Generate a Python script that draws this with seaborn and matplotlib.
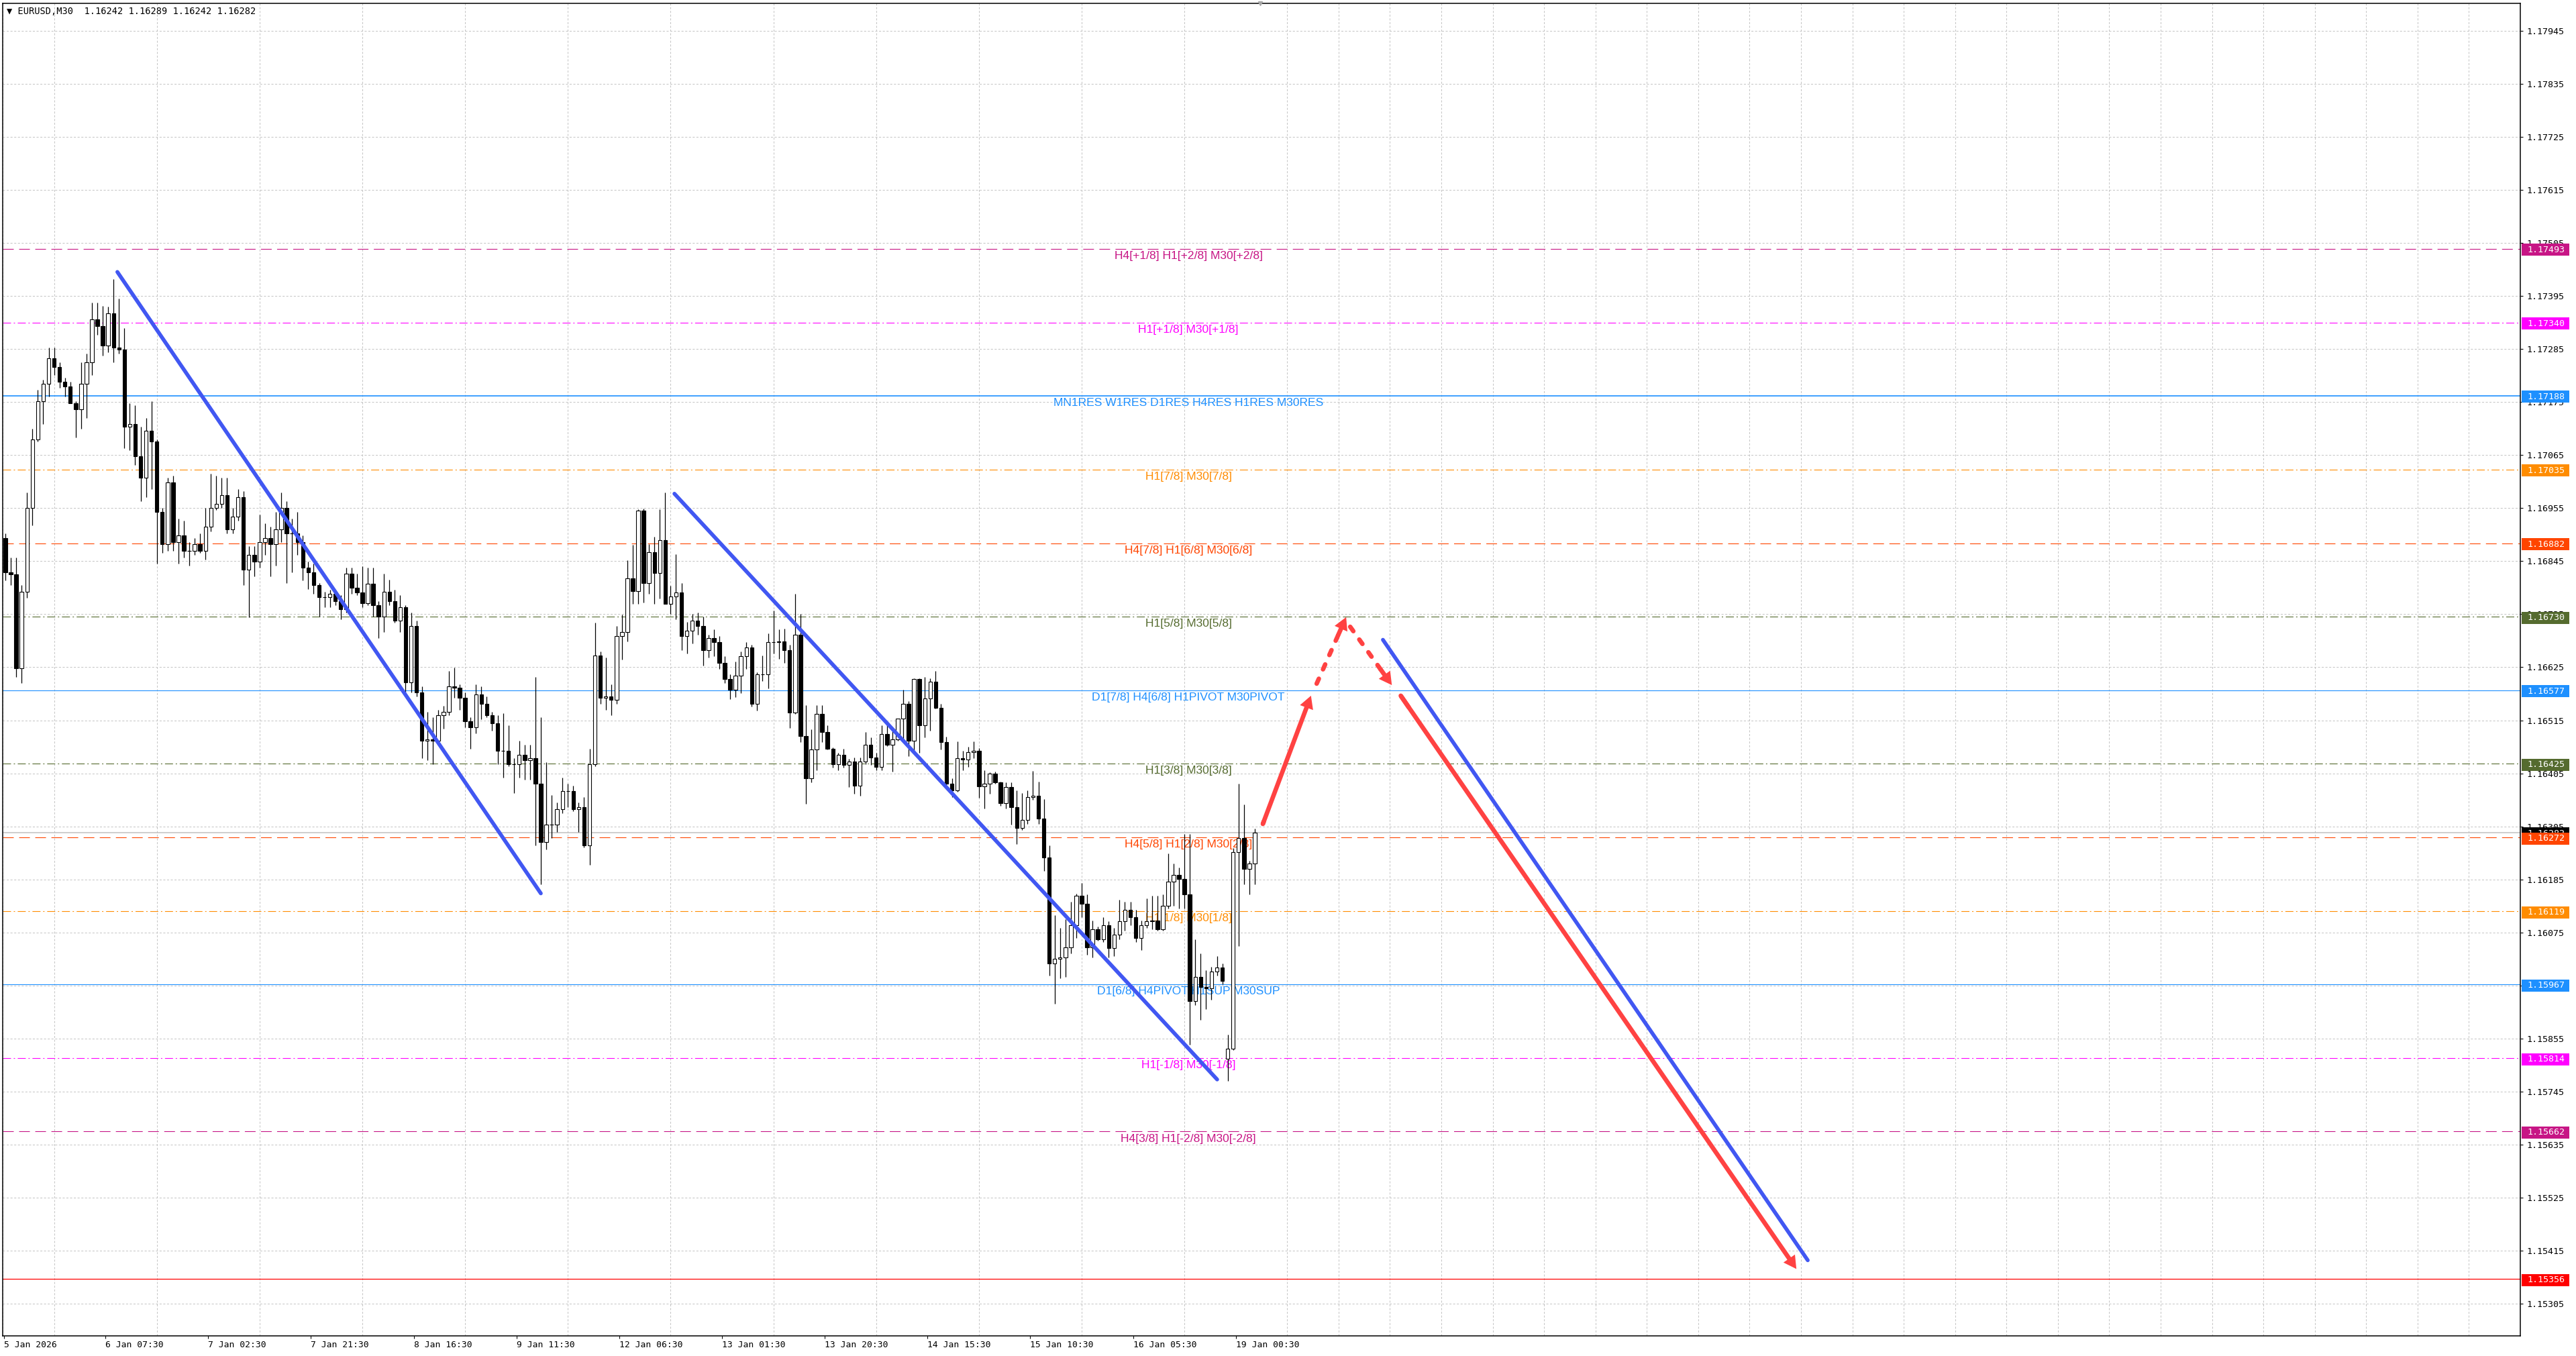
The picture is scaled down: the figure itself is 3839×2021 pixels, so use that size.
import matplotlib
matplotlib.use('Agg')
import numpy as np
import pandas as pd
import matplotlib.pyplot as plt
import matplotlib.transforms as mtransforms
from matplotlib.patches import Rectangle, FancyArrowPatch, ArrowStyle
from matplotlib.ticker import FixedLocator
import seaborn as sns

# ---------------- data (hourly candles = two M30 slots) ----------------
header = '\u25bc EURUSD,M30  1.16242 1.16289 1.16242 1.16282'

opens = [
    1.16893, 1.16822, 1.16818, 1.16623, 1.16782, 1.16955, 1.17097, 1.17177,
    1.17213, 1.17266, 1.17248, 1.17217, 1.17208, 1.17173, 1.17160, 1.17213,
    1.17257, 1.17346, 1.17333, 1.17293, 1.17359, 1.17288, 1.17284, 1.17124,
    1.17129, 1.17062, 1.17018, 1.17115, 1.17093, 1.16947, 1.16880, 1.17009,
    1.16884, 1.16898, 1.16867, 1.16867, 1.16880, 1.16867, 1.16916, 1.16955,
    1.16964, 1.16982, 1.16911, 1.16938, 1.16978, 1.16827, 1.16858, 1.16844,
    1.16884, 1.16893, 1.16880, 1.16911, 1.16955, 1.16902, 1.16902, 1.16884,
    1.16831, 1.16822, 1.16796, 1.16770, 1.16770, 1.16777, 1.16762, 1.16746,
    1.16819, 1.16790, 1.16780, 1.16758, 1.16798, 1.16754, 1.16730, 1.16782,
    1.16762, 1.16722, 1.16750, 1.16593, 1.16710, 1.16573, 1.16472, 1.16476,
    1.16472, 1.16525, 1.16533, 1.16585, 1.16583, 1.16561, 1.16513, 1.16501,
    1.16569, 1.16549, 1.16525, 1.16509, 1.16452, 1.16452, 1.16424, 1.16424,
    1.16444, 1.16432, 1.16436, 1.16384, 1.16263, 1.16299, 1.16299, 1.16331,
    1.16368, 1.16368, 1.16331, 1.16335, 1.16255, 1.16424, 1.16649, 1.16561,
    1.16565, 1.16557, 1.16690, 1.16698, 1.16810, 1.16783, 1.16950, 1.16799,
    1.16863, 1.16820, 1.16889, 1.16757, 1.16772, 1.16780, 1.16690, 1.16701,
    1.16722, 1.16711, 1.16661, 1.16685, 1.16677, 1.16634, 1.16600, 1.16579,
    1.16608, 1.16648, 1.16666, 1.16549, 1.16610, 1.16610, 1.16677, 1.16677,
    1.16679, 1.16661, 1.16531, 1.16693, 1.16483, 1.16395, 1.16454, 1.16528,
    1.16491, 1.16456, 1.16424, 1.16443, 1.16422, 1.16430, 1.16379, 1.16430,
    1.16464, 1.16438, 1.16419, 1.16486, 1.16464, 1.16475, 1.16518, 1.16549,
    1.16472, 1.16600, 1.16504, 1.16560, 1.16595, 1.16541, 1.16470, 1.16383,
    1.16370, 1.16436, 1.16434, 1.16449, 1.16452, 1.16378, 1.16383, 1.16405,
    1.16386, 1.16343, 1.16376, 1.16335, 1.16292, 1.16308, 1.16356, 1.16359,
    1.16311, 1.16231, 1.16010, 1.16020, 1.16023, 1.16044, 1.16090, 1.16151,
    1.16135, 1.16044, 1.16082, 1.16060, 1.16090, 1.16042, 1.16071, 1.16098,
    1.16122, 1.16106, 1.16063, 1.16090, 1.16098, 1.16100, 1.16082, 1.16130,
    1.16180, 1.16194, 1.16186, 1.16154, 1.15932, 1.15983, 1.15962, 1.15959,
    1.15994, 1.16002, 1.15813, 1.15834, 1.16242, 1.16271, 1.16207, 1.16218,
]
highs = [
    1.16902, 1.16853, 1.16853, 1.16796, 1.16987, 1.17120, 1.17200, 1.17222,
    1.17288, 1.17288, 1.17257, 1.17226, 1.17217, 1.17177, 1.17257, 1.17275,
    1.17381, 1.17381, 1.17374, 1.17373, 1.17430, 1.17390, 1.17328, 1.17173,
    1.17168, 1.17124, 1.17142, 1.17177, 1.17097, 1.16955, 1.17018, 1.17022,
    1.16933, 1.16929, 1.16884, 1.16893, 1.16902, 1.16955, 1.17027, 1.17022,
    1.17018, 1.17018, 1.16955, 1.16995, 1.16991, 1.16876, 1.16876, 1.16942,
    1.16924, 1.16916, 1.16947, 1.16987, 1.16969, 1.16933, 1.16947, 1.16898,
    1.16844, 1.16840, 1.16800, 1.16782, 1.16786, 1.16782, 1.16774, 1.16831,
    1.16831, 1.16819, 1.16835, 1.16831, 1.16831, 1.16762, 1.16819, 1.16806,
    1.16786, 1.16774, 1.16754, 1.16738, 1.16722, 1.16585, 1.16533, 1.16521,
    1.16537, 1.16545, 1.16617, 1.16624, 1.16589, 1.16573, 1.16521, 1.16589,
    1.16585, 1.16565, 1.16533, 1.16525, 1.16529, 1.16505, 1.16436, 1.16472,
    1.16464, 1.16464, 1.16605, 1.16521, 1.16428, 1.16360, 1.16344, 1.16396,
    1.16384, 1.16380, 1.16344, 1.16356, 1.16456, 1.16718, 1.16658, 1.16645,
    1.16589, 1.16710, 1.16734, 1.16847, 1.16879, 1.16953, 1.16954, 1.16881,
    1.16895, 1.16953, 1.16987, 1.16794, 1.16860, 1.16799, 1.16719, 1.16735,
    1.16738, 1.16730, 1.16693, 1.16704, 1.16690, 1.16648, 1.16610, 1.16637,
    1.16658, 1.16677, 1.16672, 1.16615, 1.16650, 1.16695, 1.16743, 1.16703,
    1.16705, 1.16672, 1.16777, 1.16735, 1.16547, 1.16496, 1.16547, 1.16547,
    1.16504, 1.16459, 1.16448, 1.16456, 1.16435, 1.16438, 1.16438, 1.16491,
    1.16480, 1.16448, 1.16504, 1.16504, 1.16499, 1.16518, 1.16579, 1.16555,
    1.16602, 1.16602, 1.16605, 1.16602, 1.16618, 1.16549, 1.16481, 1.16394,
    1.16471, 1.16452, 1.16460, 1.16471, 1.16457, 1.16412, 1.16407, 1.16408,
    1.16388, 1.16386, 1.16386, 1.16370, 1.16364, 1.16370, 1.16410, 1.16388,
    1.16351, 1.16255, 1.16111, 1.16084, 1.16103, 1.16138, 1.16156, 1.16177,
    1.16154, 1.16100, 1.16087, 1.16106, 1.16098, 1.16084, 1.16143, 1.16138,
    1.16139, 1.16122, 1.16100, 1.16146, 1.16151, 1.16151, 1.16154, 1.16239,
    1.16218, 1.16210, 1.16279, 1.16279, 1.16060, 1.16031, 1.15997, 1.16004,
    1.16026, 1.16010, 1.15863, 1.16250, 1.16383, 1.16340, 1.16223, 1.16290,
]
lows = [
    1.16805, 1.16796, 1.16605, 1.16592, 1.16769, 1.16920, 1.17093, 1.17129,
    1.17186, 1.17231, 1.17204, 1.17186, 1.17173, 1.17102, 1.17120, 1.17142,
    1.17231, 1.17315, 1.17271, 1.17279, 1.17257, 1.17275, 1.17080, 1.17075,
    1.17044, 1.16969, 1.16978, 1.16995, 1.16840, 1.16862, 1.16867, 1.16867,
    1.16840, 1.16853, 1.16836, 1.16858, 1.16862, 1.16849, 1.16907, 1.16951,
    1.16955, 1.16902, 1.16902, 1.16929, 1.16796, 1.16729, 1.16813, 1.16831,
    1.16858, 1.16813, 1.16836, 1.16884, 1.16800, 1.16822, 1.16858, 1.16805,
    1.16787, 1.16778, 1.16730, 1.16750, 1.16750, 1.16754, 1.16724, 1.16738,
    1.16778, 1.16774, 1.16750, 1.16754, 1.16730, 1.16686, 1.16698, 1.16754,
    1.16718, 1.16698, 1.16573, 1.16573, 1.16565, 1.16436, 1.16432, 1.16424,
    1.16464, 1.16497, 1.16525, 1.16561, 1.16537, 1.16501, 1.16456, 1.16488,
    1.16517, 1.16521, 1.16493, 1.16424, 1.16396, 1.16420, 1.16364, 1.16396,
    1.16392, 1.16392, 1.16255, 1.16175, 1.16247, 1.16271, 1.16283, 1.16323,
    1.16335, 1.16327, 1.16283, 1.16251, 1.16215, 1.16420, 1.16549, 1.16537,
    1.16525, 1.16549, 1.16641, 1.16678, 1.16757, 1.16757, 1.16759, 1.16778,
    1.16757, 1.16767, 1.16757, 1.16735, 1.16725, 1.16661, 1.16653, 1.16674,
    1.16693, 1.16629, 1.16645, 1.16648, 1.16621, 1.16592, 1.16559, 1.16563,
    1.16571, 1.16621, 1.16544, 1.16535, 1.16597, 1.16581, 1.16653, 1.16642,
    1.16634, 1.16499, 1.16528, 1.16470, 1.16342, 1.16387, 1.16411, 1.16470,
    1.16454, 1.16417, 1.16411, 1.16417, 1.16377, 1.16363, 1.16358, 1.16424,
    1.16422, 1.16411, 1.16411, 1.16462, 1.16409, 1.16472, 1.16470, 1.16440,
    1.16448, 1.16448, 1.16480, 1.16494, 1.16539, 1.16454, 1.16372, 1.16356,
    1.16367, 1.16412, 1.16418, 1.16436, 1.16354, 1.16332, 1.16362, 1.16383,
    1.16338, 1.16332, 1.16298, 1.16258, 1.16287, 1.16300, 1.16350, 1.16300,
    1.16202, 1.15986, 1.15927, 1.15980, 1.15983, 1.16031, 1.16063, 1.16106,
    1.16028, 1.16023, 1.16058, 1.16055, 1.16023, 1.16026, 1.16060, 1.16079,
    1.16090, 1.16055, 1.16039, 1.16084, 1.16082, 1.16079, 1.16079, 1.16124,
    1.16130, 1.16124, 1.16124, 1.15842, 1.15924, 1.15893, 1.15916, 1.15935,
    1.15986, 1.15967, 1.15767, 1.15831, 1.16047, 1.16175, 1.16154, 1.16175,
]
closes = [
    1.16822, 1.16818, 1.16623, 1.16782, 1.16955, 1.17097, 1.17177, 1.17213,
    1.17266, 1.17248, 1.17217, 1.17208, 1.17173, 1.17160, 1.17213, 1.17257,
    1.17346, 1.17333, 1.17293, 1.17359, 1.17288, 1.17284, 1.17124, 1.17129,
    1.17062, 1.17018, 1.17115, 1.17093, 1.16947, 1.16880, 1.17009, 1.16884,
    1.16898, 1.16867, 1.16867, 1.16880, 1.16867, 1.16916, 1.16955, 1.16964,
    1.16982, 1.16911, 1.16938, 1.16978, 1.16827, 1.16858, 1.16844, 1.16884,
    1.16893, 1.16880, 1.16911, 1.16955, 1.16902, 1.16902, 1.16884, 1.16831,
    1.16822, 1.16796, 1.16770, 1.16770, 1.16777, 1.16762, 1.16746, 1.16819,
    1.16790, 1.16780, 1.16758, 1.16798, 1.16754, 1.16730, 1.16782, 1.16762,
    1.16722, 1.16750, 1.16593, 1.16710, 1.16573, 1.16472, 1.16476, 1.16472,
    1.16525, 1.16533, 1.16585, 1.16583, 1.16561, 1.16513, 1.16501, 1.16569,
    1.16549, 1.16525, 1.16509, 1.16452, 1.16452, 1.16424, 1.16424, 1.16444,
    1.16432, 1.16436, 1.16384, 1.16263, 1.16299, 1.16299, 1.16331, 1.16368,
    1.16368, 1.16331, 1.16335, 1.16255, 1.16424, 1.16649, 1.16561, 1.16565,
    1.16557, 1.16690, 1.16698, 1.16810, 1.16783, 1.16950, 1.16799, 1.16863,
    1.16820, 1.16889, 1.16757, 1.16772, 1.16780, 1.16690, 1.16701, 1.16722,
    1.16711, 1.16661, 1.16685, 1.16677, 1.16634, 1.16600, 1.16579, 1.16608,
    1.16648, 1.16666, 1.16549, 1.16610, 1.16610, 1.16677, 1.16677, 1.16679,
    1.16661, 1.16531, 1.16693, 1.16483, 1.16395, 1.16454, 1.16528, 1.16491,
    1.16456, 1.16424, 1.16443, 1.16422, 1.16430, 1.16379, 1.16430, 1.16464,
    1.16438, 1.16419, 1.16486, 1.16464, 1.16475, 1.16518, 1.16549, 1.16472,
    1.16600, 1.16504, 1.16560, 1.16595, 1.16541, 1.16470, 1.16383, 1.16370,
    1.16436, 1.16434, 1.16449, 1.16452, 1.16378, 1.16383, 1.16405, 1.16386,
    1.16343, 1.16376, 1.16335, 1.16292, 1.16308, 1.16356, 1.16359, 1.16311,
    1.16231, 1.16010, 1.16020, 1.16023, 1.16044, 1.16090, 1.16151, 1.16135,
    1.16044, 1.16082, 1.16060, 1.16090, 1.16042, 1.16071, 1.16098, 1.16122,
    1.16106, 1.16063, 1.16090, 1.16098, 1.16100, 1.16082, 1.16130, 1.16180,
    1.16194, 1.16186, 1.16154, 1.15932, 1.15983, 1.15962, 1.15959, 1.15994,
    1.16002, 1.15975, 1.15834, 1.16242, 1.16271, 1.16207, 1.16218, 1.16282,
]

time_labels = ['5 Jan 2026', '6 Jan 07:30', '7 Jan 02:30', '7 Jan 21:30', '8 Jan 16:30',
               '9 Jan 11:30', '12 Jan 06:30', '13 Jan 01:30', '13 Jan 20:30',
               '14 Jan 15:30', '15 Jan 10:30', '16 Jan 05:30', '19 Jan 00:30']

tick_prices = [1.17945, 1.17835, 1.17725, 1.17615, 1.17505, 1.17395, 1.17285, 1.17175,
               1.17065, 1.16955, 1.16845, 1.16735, 1.16625, 1.16515, 1.16405, 1.16295,
               1.16185, 1.16075, 1.15965, 1.15855, 1.15745, 1.15635, 1.15525, 1.15415,
               1.15305]
tick_texts = ['1.17945', '1.17835', '1.17725', '1.17615', '1.17505', '1.17395', '1.17285',
              '1.17175', '1.17065', '1.16955', '1.16845', '1.16735', '1.16625', '1.16515',
              '1.16405', '1.16305', '1.16185', '1.16075', '1.15965', '1.15855', '1.15745',
              '1.15635', '1.15525', '1.15415', '1.15305']

level_prices = [1.17493, 1.17340, 1.17188, 1.17035, 1.16882, 1.16730, 1.16577,
                1.16425, 1.16272, 1.16119, 1.15967, 1.15814, 1.15662, 1.15356]
level_names = ['H4[+1/8] H1[+2/8] M30[+2/8]', 'H1[+1/8] M30[+1/8]',
               'MN1RES W1RES D1RES H4RES H1RES M30RES', 'H1[7/8] M30[7/8]',
               'H4[7/8] H1[6/8] M30[6/8]', 'H1[5/8] M30[5/8]',
               'D1[7/8] H4[6/8] H1PIVOT M30PIVOT', 'H1[3/8] M30[3/8]',
               'H4[5/8] H1[2/8] M30[2/8]', 'H1[1/8] M30[1/8]',
               'D1[6/8] H4PIVOT H1SUP M30SUP', 'H1[-1/8] M30[-1/8]',
               'H4[3/8] H1[-2/8] M30[-2/8]', '']
current_price = 1.16282

# hand-drawn objects: (M30 bar index, price)
trend_bar = [41.4, 198.0, 247.4, 448.1, 509.4, 666.5]
trend_price = [1.17445, 1.16156, 1.16985, 1.15770, 1.16682, 1.15395]
trend_id = [0, 0, 1, 1, 2, 2]
arrow_start_bar = [465.0, 484.9, 497.3, 516.0]
arrow_start_price = [1.16300, 1.16591, 1.16709, 1.16566]
arrow_end_bar = [482.8, 495.8, 512.7, 662.3]
arrow_end_price = [1.16566, 1.16729, 1.16588, 1.15377]
arrow_dashed = [False, True, True, False]

# ---------------- styles ----------------
level_colors = ['#C71585', '#FF00FF', '#1E90FF', '#FF8C00', '#FF4500', '#556B2F', '#1E90FF',
                '#556B2F', '#FF4500', '#FF8C00', '#1E90FF', '#FF00FF', '#C71585', '#FF0000']
level_kinds = ['dash', 'dashdot', 'solid', 'dashdot', 'dash', 'dashdot', 'solid',
               'dashdot', 'dash', 'dashdot', 'solid', 'dashdot', 'dash', 'solid']
level_lw = [0.8, 0.8, 1.2, 0.8, 0.8, 0.8, 0.8, 0.8, 0.8, 0.8, 0.8, 0.8, 0.8, 0.9]
kind_style = {'solid': '-', 'dash': (0, (11.5, 5.8)), 'dashdot': (0, (8.6, 2.9, 1.4, 2.9))}
blue = '#4157F2'
red = '#FF4242'
W, H = 3839, 2021
ax_l, ax_r, ax_t, ax_b = 4, 3756, 5, 1991          # plot frame in pixels
px_per_price = 71856.0
label_bar = 437.5                                   # centre of the level captions
bar_step = 2                                        # one hourly candle = two M30 slots
shift_bar = 464

sns.set_theme(style='white')
plt.rcParams['font.family'] = ['DejaVu Sans Mono', 'DejaVu Sans']
plt.rcParams['lines.scale_dashes'] = False
plt.rcParams['axes.edgecolor'] = 'black'
plt.rcParams['axes.linewidth'] = 1.1

fig = plt.figure(figsize=(W / 100, H / 100), dpi=100)
fig.patch.set_facecolor('white')
ax = fig.add_axes([ax_l / W, 1 - ax_b / H, (ax_r - ax_l) / W, (ax_b - ax_t) / H])
ax.set_facecolor('white')

ymax = tick_prices[0] + (46 - ax_t) / px_per_price
ymin = tick_prices[-1] - (ax_b - 1943) / px_per_price
ax.set_ylim(ymin, ymax)
ax.set_xlim(-1, 930)

# grid
grid_kw = dict(color='#C4C4C4', lw=0.72, linestyle=(0, (2.2, 1.8)))
ax.set_yticks(tick_prices)
ax.set_yticklabels(tick_texts)
ax.yaxis.grid(True, which='major', **grid_kw)
ax.xaxis.set_minor_locator(FixedLocator([18 + 19 * k for k in range(-1, 49)]))
ax.xaxis.grid(True, which='minor', **grid_kw)
ax.xaxis.grid(False, which='major')

label_bars = [-0.5] + [37 + 38 * k for k in range(len(time_labels) - 1)]
ax.set_xticks(label_bars)
ax.set_xticklabels(time_labels)
for t in ax.get_xticklabels():
    t.set_ha('left')

ax.yaxis.tick_right()
ax.tick_params(axis='y', which='major', right=True, left=False, labelright=True, labelleft=False,
               length=3, width=0.8, pad=4, labelsize=9.6, colors='black', direction='out')
ax.tick_params(axis='x', which='major', bottom=True, length=3, width=0.8, pad=2,
               labelsize=9.4, colors='black', direction='out')
ax.tick_params(axis='x', which='minor', length=0)
for sp in ax.spines.values():
    sp.set_visible(True)
    sp.set_color('black')
    sp.set_linewidth(1.1)

# level lines and captions
for price, name, col, kind, lw in zip(level_prices, level_names, level_colors, level_kinds, level_lw):
    ax.axhline(price, color=col, lw=lw, linestyle=kind_style[kind], zorder=1.6)
    if name:
        ax.annotate(name, xy=(label_bar, price), xytext=(0, -2.2), textcoords='offset points',
                    ha='center', va='top', color=col, fontsize=12.6,
                    family=['Liberation Sans', 'DejaVu Sans'], zorder=2.2)
ax.axhline(current_price, color='#C0C0C0', lw=1.1, zorder=1.7)

# candles
xs = np.arange(len(closes)) * bar_step
o = np.array(opens)
c = np.array(closes)
up = c >= o
ax.vlines(xs, lows, highs, colors='black', lw=0.9, zorder=3)
ax.bar(xs[up], (c - o)[up], bottom=o[up], width=1.35, color='white', edgecolor='black',
       linewidth=0.8, zorder=3.5)
ax.bar(xs[~up], (c - o)[~up], bottom=o[~up], width=1.35, color='black', edgecolor='black',
       linewidth=0.8, zorder=3.5)

# blue channel lines
trend_df = pd.DataFrame({'bar': trend_bar, 'price': trend_price, 'line': trend_id})
sns.lineplot(data=trend_df, x='bar', y='price', units='line', estimator=None, color=blue,
             lw=4.1, solid_capstyle='round', ax=ax, legend=False, zorder=6)
ax.set_xlabel('')
ax.set_ylabel('')

# red forecast arrows
head_style = ArrowStyle.Simple(head_length=0.68, head_width=0.75, tail_width=0.24)
for x0, p0, x1, p1, dashed in zip(arrow_start_bar, arrow_start_price, arrow_end_bar,
                                  arrow_end_price, arrow_dashed):
    if dashed:
        xm, pm = x0 + 0.8 * (x1 - x0), p0 + 0.8 * (p1 - p0)
        ax.plot([x0, xm], [p0, pm], color=red, lw=4.8, linestyle=(0, (5.8, 11)),
                dash_capstyle='round', zorder=6)
        xs0, ps0 = x0 + 0.72 * (x1 - x0), p0 + 0.72 * (p1 - p0)
        ax.add_patch(FancyArrowPatch((xs0, ps0), (x1, p1), arrowstyle=head_style,
                                     mutation_scale=20, color=red, lw=0,
                                     shrinkA=0, shrinkB=0, zorder=6))
    else:
        ax.plot([x0, x0 + 0.02 * (x1 - x0)], [p0, p0 + 0.02 * (p1 - p0)], color=red, lw=4.8,
                solid_capstyle='round', zorder=6)
        ax.add_patch(FancyArrowPatch((x0, p0), (x1, p1), arrowstyle=head_style,
                                     mutation_scale=20, color=red, lw=0,
                                     shrinkA=0, shrinkB=0, zorder=6))

# price tags on the axis
blend = mtransforms.blended_transform_factory(ax.transAxes, ax.transData)
span = ax_r - ax_l
tag_h = 18 / px_per_price
tag_x = 2 / span
tag_w = 71 / span
txt_x = 10 / span
tags = [(current_price, 'black')] + list(zip(level_prices, level_colors))
for i, (price, col) in enumerate(tags):
    ax.add_patch(Rectangle((1 + tag_x, price - tag_h / 2 - 1.5 / px_per_price), tag_w, tag_h,
                           transform=blend, facecolor=col, edgecolor='none',
                           clip_on=False, zorder=9 + i * 0.01))
    ax.text(1 + txt_x, price - 1.5 / px_per_price, f'{price:.5f}', transform=blend,
            ha='left', va='center', color='white', fontsize=9.6, clip_on=False,
            zorder=9.005 + i * 0.01)

# chart shift marker and header
ax.plot([shift_bar], [ymax], marker='v', ms=5, color='#A8A8A8', clip_on=False, zorder=8)
fig.text(10 / W, 1 - 17 / H, header, ha='left', va='center', fontsize=9.8, color='black')

fig.savefig('out.png', dpi=100)
plt.close(fig)
